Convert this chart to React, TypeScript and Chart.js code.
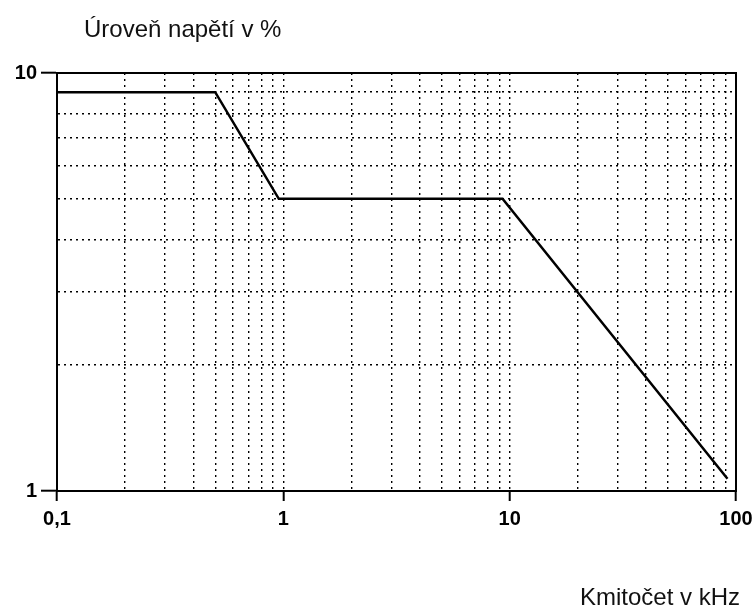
import React, { useEffect, useRef } from "react";
import { Chart, registerables } from "chart.js";

Chart.register(...registerables);

// Series (frequency in kHz, level in %)
const frequencyKHz = [0.1, 0.5, 0.955, 9.3, 91.7];
const levelPercent = [9, 9, 5, 5, 1.07];

// Axis tick values and labels
const xDecades = [0.1, 1, 10, 100];
const xDecadeLabels = ["0,1", "1", "10", "100"];
const yDecades = [1, 10];
const yDecadeLabels = ["1", "10"];
const minorMultipliers = [1, 2, 3, 4, 5, 6, 7, 8, 9];

const yTitle = "Úroveň napětí v %";
const xTitle = "Kmitočet v kHz";

function buildTicks(decades: number[]): number[] {
  const out: number[] = [];
  for (let i = 0; i < decades.length - 1; i++) {
    for (const m of minorMultipliers) out.push(+(decades[i] * m).toPrecision(6));
  }
  out.push(decades[decades.length - 1]);
  return out;
}

const xTicks = buildTicks(xDecades);
const yTicks = buildTicks(yDecades);

function labelFor(v: number, decades: number[], labels: string[]): string {
  const i = decades.findIndex((d) => Math.abs(d - v) / d < 1e-6);
  return i >= 0 ? labels[i] : "";
}

const isMajor = (v: number, decades: number[]) =>
  decades.some((d) => Math.abs(d - v) / d < 1e-6);

const framePlugin = {
  id: "frameAndTitles",
  afterDraw(chart: any) {
    const { ctx, chartArea } = chart;
    ctx.save();
    ctx.strokeStyle = "#000";
    ctx.lineWidth = 2;
    ctx.strokeRect(
      chartArea.left,
      chartArea.top,
      chartArea.right - chartArea.left,
      chartArea.bottom - chartArea.top
    );
    ctx.fillStyle = "#111";
    ctx.font = '24px "Liberation Sans", Arial, sans-serif';
    ctx.textBaseline = "alphabetic";
    ctx.textAlign = "left";
    ctx.fillText(yTitle, 84, 37);
    ctx.fillText(xTitle, 580, 605);
    ctx.restore();
  },
};

const tickFont = { family: '"Liberation Sans", Arial, sans-serif', size: 20, weight: "bold" as const };

export default function App() {
  const canvasRef = useRef<HTMLCanvasElement | null>(null);

  useEffect(() => {
    if (!canvasRef.current) return;
    const chart = new Chart(canvasRef.current, {
      type: "line",
      data: {
        datasets: [
          {
            data: frequencyKHz.map((f, i) => ({ x: f, y: levelPercent[i] })),
            borderColor: "#000",
            borderWidth: 2.5,
            pointRadius: 0,
            tension: 0,
          },
        ],
      },
      options: {
        animation: false,
        responsive: true,
        maintainAspectRatio: false,
        layout: { padding: { top: 73, right: 17, left: 0, bottom: 0 } },
        plugins: { legend: { display: false }, tooltip: { enabled: false } },
        scales: {
          x: {
            type: "logarithmic",
            min: 0.1,
            max: 100,
            afterBuildTicks: (axis: any) => {
              axis.ticks = xTicks.map((v) => ({ value: v }));
            },
            afterFit: (axis: any) => {
              axis.height = 115;
              axis.paddingLeft = 0;
              axis.paddingRight = 0;
            },
            ticks: {
              autoSkip: false,
              maxRotation: 0,
              padding: 6,
              color: "#000",
              font: tickFont,
              callback: (v: any) => labelFor(Number(v), xDecades, xDecadeLabels),
            },
            grid: {
              color: "#000",
              lineWidth: 1.4,
              tickLength: 10,
              tickColor: (c: any) => (c.tick && isMajor(c.tick.value, xDecades) ? "#000" : "rgba(0,0,0,0)"),
              tickWidth: 2,
              tickBorderDash: [],
            },
            border: { display: true, color: "#000", width: 2, dash: [2, 4] },
          },
          y: {
            type: "logarithmic",
            min: 1,
            max: 10,
            afterBuildTicks: (axis: any) => {
              axis.ticks = yTicks.map((v) => ({ value: v }));
            },
            afterFit: (axis: any) => {
              axis.width = 57;
              axis.paddingTop = 0;
              axis.paddingBottom = 0;
            },
            ticks: {
              autoSkip: false,
              padding: 4,
              color: "#000",
              font: tickFont,
              callback: (v: any) => labelFor(Number(v), yDecades, yDecadeLabels),
            },
            grid: {
              color: "#000",
              lineWidth: 1.4,
              tickLength: 16,
              tickColor: (c: any) => (c.tick && isMajor(c.tick.value, yDecades) ? "#000" : "rgba(0,0,0,0)"),
              tickWidth: 2,
              tickBorderDash: [],
            },
            border: { display: true, color: "#000", width: 2, dash: [2, 4] },
          },
        },
      },
      plugins: [framePlugin],
    });
    return () => chart.destroy();
  }, []);

  return (
    <div style={{ position: "fixed", left: 0, top: 0, width: 753, height: 606, background: "#fff" }}>
      <canvas ref={canvasRef} />
    </div>
  );
}
